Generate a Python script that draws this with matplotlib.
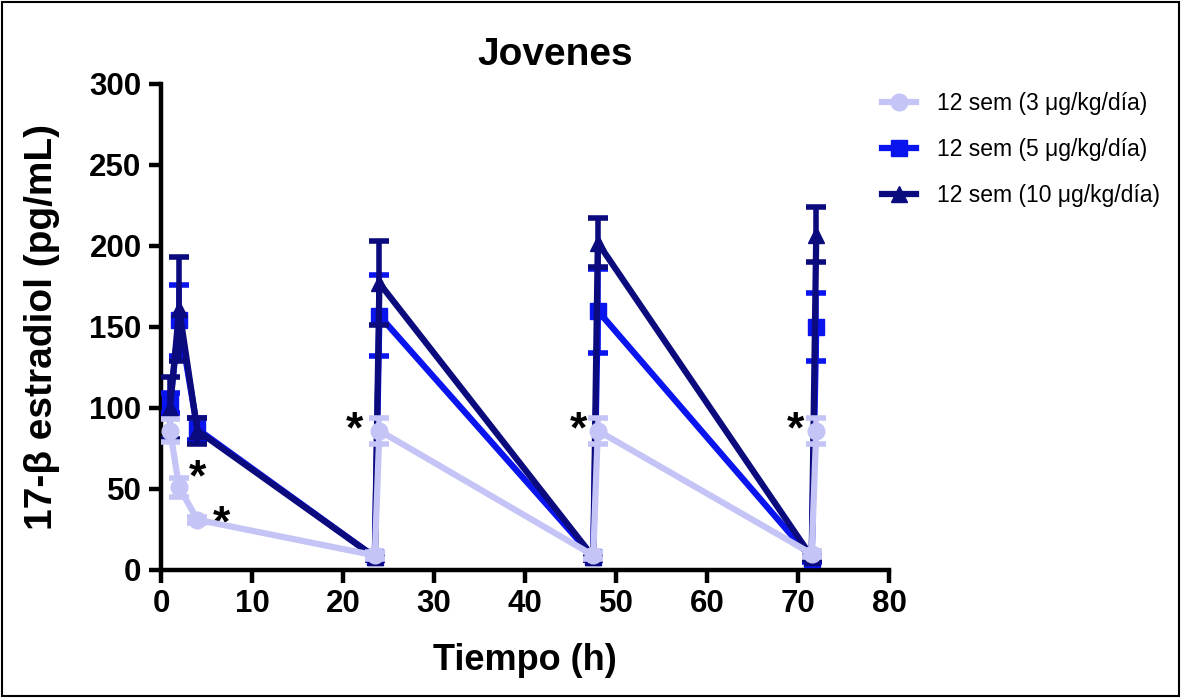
import matplotlib
matplotlib.use("Agg")
import matplotlib.pyplot as plt
from matplotlib.lines import Line2D
from matplotlib.patches import Rectangle

plt.rcParams['font.family'] = ['Liberation Sans', 'DejaVu Sans']

# tiempo (h)
tiempo = [1, 2, 4, 23.5, 24, 47.5, 48, 71.5, 72]

# 12 sem (3 ug/kg/dia)
dosis3 = [86, 51, 31, 9, 86, 9, 86, 10, 86]
err3 = [7, 6, 2, 2, 8, 2, 8, 2, 8]
# 12 sem (5 ug/kg/dia)
dosis5 = [103, 154, 87, 8, 157, 8, 160, 7, 150]
err5 = [6, 22, 7, 2, 25, 2, 26, 2, 21]
# 12 sem (10 ug/kg/dia)
dosis10 = [100, 161, 86, 8, 177, 8, 202, 8, 207]
err10 = [19, 32, 8, 2, 26, 2, 15, 2, 17]

labels = ['12 sem (3 μg/kg/día)', '12 sem (5 μg/kg/día)', '12 sem (10 μg/kg/día)']
colores = ['#c4c4f7', '#0a14ee', '#0b0b7e']
marcadores = ['o', 's', '^']

# asteriscos (t, y)
ast_t = [4.0, 6.6, 21.3, 45.9, 69.7]
ast_y = [62, 34, 92, 92, 92]

fig = plt.figure(figsize=(11.81, 6.98), dpi=100)
ax = fig.add_axes([0.1363, 0.1834, 0.6165, 0.6963])

series = [(dosis5, err5, 1), (dosis10, err10, 2), (dosis3, err3, 0)]
for vals, errs, i in series:
    ax.errorbar(tiempo, vals, yerr=errs, color=colores[i], marker=marcadores[i],
                markersize=12, lw=4.5, elinewidth=4, capsize=7, capthick=4,
                zorder=3 + i if i else 6)

for t, y in zip(ast_t, ast_y):
    ax.text(t, y - 6, '*', fontsize=32, fontweight='bold', ha='center', va='center')

ax.set_xlim(0, 80)
ax.set_ylim(0, 300)
ax.set_xticks([0, 10, 20, 30, 40, 50, 60, 70, 80])
ax.set_yticks([0, 50, 100, 150, 200, 250, 300])
for s in ['top', 'right']:
    ax.spines[s].set_visible(False)
for s in ['left', 'bottom']:
    ax.spines[s].set_linewidth(3.2)
ax.tick_params(width=3.2, length=9, labelsize=22.5, pad=5)
for lab in ax.get_xticklabels() + ax.get_yticklabels():
    lab.set_fontweight('bold')

ax.set_xlabel('Tiempo (h)', fontsize=26, fontweight='bold', va='center')
ax.xaxis.set_label_coords(0.5, -0.186)
ax.set_ylabel('17-β estradiol (pg/mL)', fontsize=28, fontweight='bold', va='center')
ax.yaxis.set_label_coords(-0.163, 0.5)
fig.text(0.47, 0.921, 'Jovenes', fontsize=28, fontweight='bold', ha='center', va='center')

handles = [Line2D([], [], color=colores[i], marker=marcadores[i], markersize=12, lw=4.5)
           for i in range(3)]
fig.legend(handles, labels, loc='upper left', bbox_to_anchor=(0.729, 0.898),
           frameon=False, fontsize=16.5, handlelength=1.5, handletextpad=0.9,
           labelspacing=1.0)

fig.patches.append(Rectangle((0.002, 0.003), 0.996, 0.994, transform=fig.transFigure,
                             fill=False, edgecolor='black', lw=1.5))

fig.savefig('out.png', dpi=100)
